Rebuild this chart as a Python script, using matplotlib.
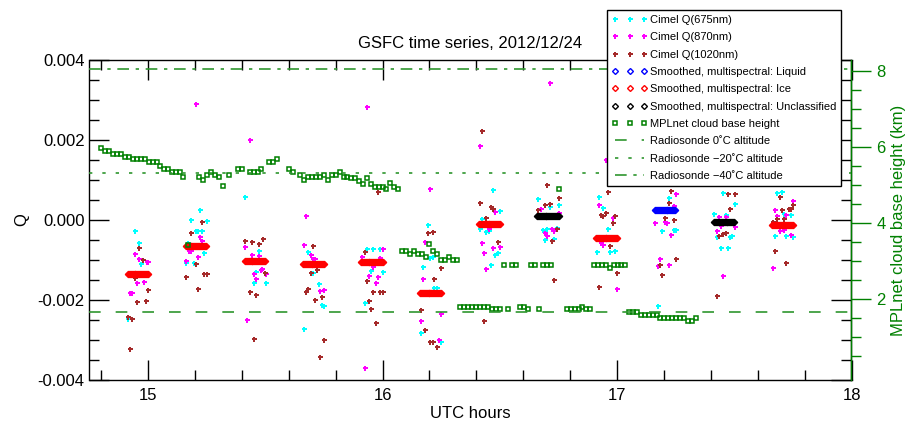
import numpy as np
import matplotlib
matplotlib.use("Agg")
import matplotlib.pyplot as plt
from matplotlib.lines import Line2D
from matplotlib.ticker import MultipleLocator, FixedLocator, FuncFormatter

plt.rcParams["font.family"] = ["Liberation Sans", "DejaVu Sans"]

# Cimel cloud-mode retrievals, UTC hour and Q (Q in units of 1e-3)
c675_t = [14.942, 14.961, 14.971, 14.914,
          15.220, 15.181, 15.250, 15.203, 15.214, 15.231, 15.171, 15.239, 15.163, 15.194,
          15.412, 15.472, 15.461, 15.452, 15.501,
          15.682, 15.705, 15.730, 15.742, 15.750, 15.664,
          15.933, 15.961, 15.989, 15.952, 16.001, 15.924,
          16.193, 16.213, 16.203, 16.173, 16.221, 16.231, 16.164, 16.250,
          16.472, 16.500, 16.425, 16.415, 16.443, 16.453, 16.492, 16.481, 16.463,
          16.664, 16.714, 16.752, 16.684, 16.703, 16.742, 16.694, 16.732,
          16.923, 16.942, 16.962, 16.914, 16.972, 16.991,
          17.223, 17.192, 17.241, 17.251, 17.173,
          17.453, 17.501, 17.415, 17.463, 17.425, 17.482, 17.492, 17.443, 17.473,
          17.684, 17.704, 17.714, 17.742, 17.674, 17.722, 17.752]
c675_q = [-0.28, -0.57, -1.09, -2.48,
          0.24, -0.01, -0.02, -0.28, -0.28, -0.28, -0.57, -0.82, -1.08, -1.08,
          0.58, -0.78, -1.29, -1.58, -1.58,
          -0.80, -1.33, -1.60, -2.13, -2.16, -2.73,
          -0.73, -0.73, -0.73, -1.28, -1.29, -2.08,
          -0.13, -0.92, -0.95, -1.18, -1.69, -1.69, -2.82, -3.05,
          0.74, 0.22, 0.02, -0.22, -0.31, -0.28, -0.83, -0.87, -1.12,
          0.53, 0.33, 0.37, -0.25, -0.23, -0.20, -0.50, -0.48,
          0.57, 0.30, -0.22, -0.79, -0.81, -0.77,
          0.54, -0.27, -0.25, -0.25, -2.15,
          0.67, 0.40, 0.15, 0.12, -0.43, -0.42, -0.40, -0.69, -0.69,
          0.67, 0.69, 0.15, 0.13, -0.40, -0.40, -0.42]

c870_t = [14.942, 14.961, 14.994, 15.000, 14.951, 14.981, 14.922, 14.932,
          15.203, 15.220, 15.230, 15.175, 15.181, 15.211, 15.161,
          15.433, 15.412, 15.442, 15.472, 15.487, 15.480, 15.501, 15.452, 15.461, 15.422,
          15.673, 15.664, 15.694, 15.703, 15.713, 15.722, 15.733, 15.749,
          15.933, 16.001, 15.914, 15.989, 15.961, 15.942, 15.981, 15.971, 15.924,
          16.203, 16.183, 16.173, 16.251, 16.164, 16.241,
          16.415, 16.481, 16.453, 16.425, 16.472, 16.500, 16.434, 16.443,
          16.712, 16.674, 16.752, 16.723, 16.733, 16.694, 16.703,
          16.953, 16.923, 16.981, 16.933, 16.942, 17.001,
          17.251, 17.241, 17.163, 17.203, 17.213, 17.231, 17.184, 17.173, 17.223,
          17.435, 17.463, 17.443, 17.501, 17.425, 17.453,
          17.752, 17.674, 17.684, 17.722, 17.694, 17.714, 17.742, 17.665]
c870_q = [-0.86, -0.98, -1.06, -1.06, -1.58, -1.56, -1.83, -1.83,
          2.90, -0.43, -0.53, -0.78, -0.78, -0.93, -1.02,
          2.00, -0.68, -0.87, -0.91, -1.23, -1.25, -1.35, -1.35, -1.48, -2.50,
          0.10, -0.63, -0.88, -0.98, -0.98, -1.18, -1.78, -1.75,
          2.82, -0.72, -0.92, -0.96, -1.17, -1.40, -1.42, -1.57, -3.69,
          0.77, -0.56, -1.48, -2.35, -2.53, -3.00,
          1.86, 0.19, -0.22, -0.58, -0.69, -0.68, -0.82, -1.23,
          3.43, 0.28, 0.17, -0.23, -0.28, -0.33, -0.41,
          1.50, 0.37, 0.05, -0.58, -0.62, -1.73,
          0.65, 0.35, -0.08, -0.05, -0.08, -0.38, -0.98, -1.14, -1.13,
          0.08, 0.08, -0.14, -0.17, -0.28, -1.39,
          0.48, 0.24, 0.11, 0.12, -0.27, -0.25, -0.38, -1.20]

c1020_t = [14.961, 14.979, 14.944, 14.999, 14.951, 14.991, 14.914, 14.932, 14.922,
           15.181, 15.231, 15.203, 15.163, 15.239, 15.250, 15.211,
           15.412, 15.442, 15.472, 15.490, 15.499, 15.433, 15.461, 15.452,
           15.702, 15.722, 15.694, 15.682, 15.672, 15.742, 15.712, 15.750, 15.732,
           15.980, 15.924, 15.933, 15.961, 15.991, 16.001, 15.942, 15.952, 15.971,
           16.193, 16.213, 16.250, 16.221, 16.164, 16.183, 16.203, 16.213, 16.231,
           16.425, 16.415, 16.463, 16.472, 16.443, 16.492, 16.433,
           16.702, 16.752, 16.694, 16.714, 16.664, 16.742, 16.722, 16.732,
           16.962, 16.933, 16.942, 16.953, 16.991, 16.981, 16.972, 17.001, 16.924,
           17.231, 17.223, 17.203, 17.241, 17.251, 17.184, 17.192,
           17.473, 17.501, 17.482, 17.453, 17.463, 17.435, 17.425,
           17.694, 17.752, 17.732, 17.742, 17.704, 17.684, 17.714, 17.664, 17.674, 17.722]
c1020_q = [-0.69, -1.00, -1.45, -1.76, -2.04, -2.02, -2.43, -2.48, -3.23,
           -0.33, -0.06, -1.09, -1.43, -1.36, -1.35, -1.73,
           -0.52, -0.55, -0.60, -0.48, -1.32, -1.81, -1.88, -2.97,
           -0.64, -1.26, -1.32, -1.72, -1.80, -1.93, -2.01, -3.00, -3.43,
           0.69, -0.81, -1.52, -1.81, -1.81, -1.81, -2.02, -2.23, -2.57,
           -0.33, -0.29, -1.20, -1.48, -2.25, -2.74, -3.04, -3.06, -3.17,
           2.23, 0.43, 0.32, 0.27, 0.04, -0.54, -2.52,
           0.87, 0.55, 0.38, 0.41, 0.25, -0.23, -0.53, -1.51,
           0.69, 0.12, 0.10, 0.17, 0.10, -0.08, -0.64, -1.33, -1.68,
           0.73, 0.43, 0.04, 0.01, -0.97, -1.13, -1.38,
           0.65, 0.65, 0.28, -0.35, -0.32, -0.41, -1.89,
           0.58, 0.37, 0.27, 0.27, 0.26, 0.02, 0.03, -0.04, -0.77, -1.08]

# smoothed multispectral Q, one constant value per Cimel sequence
smooth_start = [14.914, 15.161, 15.413, 15.661, 15.908, 16.160,
                16.412, 16.659, 16.911, 17.163, 17.415, 17.662]
smooth_end = [14.999, 15.247, 15.499, 15.750, 16.002, 16.250,
              16.502, 16.753, 17.001, 17.248, 17.501, 17.752]
smooth_q = [-1.35, -0.64, -1.03, -1.09, -1.06, -1.83,
            -0.10, 0.10, -0.44, 0.26, -0.05, -0.12]
smooth_phase = ["Ice", "Ice", "Ice", "Ice", "Ice", "Ice",
                "Ice", "Unclassified", "Ice", "Liquid", "Unclassified", "Ice"]
smooth_step = 0.004  # h between smoothed samples

# MPLnet cloud base height (km)
mpl_t = [14.799, 14.816, 14.833, 14.850, 14.867, 14.884, 14.902, 14.918, 14.935, 14.952,
         14.969, 14.986, 15.003, 15.020, 15.038, 15.050, 15.067, 15.085, 15.102, 15.119,
         15.136, 15.149, 15.170, 15.217, 15.234, 15.251, 15.268, 15.285, 15.302, 15.319,
         15.345, 15.383, 15.400, 15.434, 15.452, 15.469, 15.483, 15.517, 15.533, 15.550,
         15.600, 15.617, 15.648, 15.665, 15.682, 15.699, 15.716, 15.733, 15.750, 15.766,
         15.784, 15.802, 15.817, 15.834, 15.847, 15.864, 15.881, 15.900, 15.917, 15.934,
         15.951, 15.968, 15.985, 16.001, 16.016, 16.033, 16.050, 16.066,
         16.082, 16.099, 16.117, 16.133, 16.150, 16.167, 16.184, 16.200, 16.217, 16.234,
         16.250, 16.267, 16.284, 16.301, 16.318,
         16.331, 16.348, 16.365, 16.382, 16.399, 16.416, 16.433, 16.450, 16.467, 16.484,
         16.502, 16.536, 16.587, 16.604, 16.621, 16.667, 16.786, 16.803, 16.820, 16.837,
         16.851, 16.868, 16.885, 17.051, 17.068, 17.085, 17.102, 17.119, 17.136, 17.153,
         17.170, 17.184, 17.201, 17.219, 17.236, 17.253, 17.270, 17.287, 17.301, 17.318,
         17.335,
         16.516, 16.550, 16.567, 16.635, 16.652, 16.684, 16.701, 16.718, 16.752,
         16.900, 16.917, 16.934, 16.951, 16.968, 16.985, 17.002, 17.019, 17.036]
mpl_km = [5.97, 5.89, 5.89, 5.82, 5.82, 5.82, 5.74, 5.74, 5.67, 5.67,
          5.67, 5.67, 5.59, 5.59, 5.59, 5.50, 5.43, 5.43, 5.35, 5.35,
          5.35, 5.20, 3.42, 5.20, 5.12, 5.27, 5.35, 5.27, 5.20, 4.96,
          5.27, 5.43, 5.43, 5.35, 5.35, 5.35, 5.43, 5.59, 5.59, 5.67,
          5.43, 5.35, 5.27, 5.12, 5.20, 5.20, 5.20, 5.20, 5.27, 5.12,
          5.27, 5.27, 5.35, 5.20, 5.20, 5.19, 5.19, 5.11, 5.03, 5.19,
          5.03, 4.95, 4.95, 4.95, 4.89, 5.04, 4.95, 4.89,
          3.27, 3.27, 3.19, 3.27, 3.19, 3.19, 3.11, 3.43, 3.27, 3.19,
          3.03, 3.03, 3.11, 3.03, 3.03,
          1.79, 1.79, 1.79, 1.79, 1.79, 1.79, 1.79, 1.79, 1.72, 1.72,
          1.72, 1.72, 1.79, 1.79, 1.72, 1.72, 1.72, 1.72, 1.72, 1.72,
          1.79, 1.72, 1.72, 1.64, 1.64, 1.64, 1.57, 1.57, 1.57, 1.57,
          1.57, 1.49, 1.49, 1.49, 1.49, 1.49, 1.49, 1.49, 1.42, 1.42,
          1.49,
          2.88, 2.88, 2.88, 2.88, 2.88, 2.88, 2.88, 2.88, 4.89,
          2.88, 2.88, 2.88, 2.88, 2.80, 2.88, 2.88, 2.88, 2.88]

# radiosonde isotherm altitudes (km)
sonde_0c = 1.66
sonde_m20c = 5.30
sonde_m40c = 8.06

green = "#008000"
line_green = "#2f962f"
phase_colors = {"Liquid": "blue", "Ice": "red", "Unclassified": "black"}

fig = plt.figure(figsize=(9.12, 4.22), dpi=100)
ax = fig.add_axes([89.5 / 912, 1 - 380 / 422, 762 / 912, 320 / 422])
ax2 = ax.twinx()

cimel_style = dict(ls="none", marker="P", ms=3.6, mew=0)
ax.plot(c675_t, np.array(c675_q) * 1e-3, color="cyan", **cimel_style)
ax.plot(c870_t, np.array(c870_q) * 1e-3, color="magenta", **cimel_style)
ax.plot(c1020_t, np.array(c1020_q) * 1e-3, color="brown", **cimel_style)

for t0, t1, q, ph in zip(smooth_start, smooth_end, smooth_q, smooth_phase):
    ts = np.arange(t0, t1 + 1e-6, smooth_step)
    ax.plot(ts, np.full(ts.size, q * 1e-3), ls="none", marker="D", ms=3.2,
            mfc="none", mec=phase_colors[ph], mew=1.0)

ax2.plot(mpl_t, mpl_km, ls="none", marker="s", ms=3.2, mfc="none",
         mec=green, mew=1.1)
ax2.axhline(sonde_0c, color=line_green, lw=1.2, dashes=(7, 9))
ax2.axhline(sonde_m20c, color=line_green, lw=1.2, dashes=(2, 6))
ax2.axhline(sonde_m40c, color=line_green, lw=1.2, dashes=(7, 4, 2, 4))

ax.set_xlim(14.75, 18.0)
ax.set_ylim(-0.004, 0.004)
ax2.set_ylim(-0.14, 8.29)

ax.xaxis.set_major_locator(MultipleLocator(1))
ax.xaxis.set_minor_locator(MultipleLocator(0.2))
ax.xaxis.set_major_formatter(FuncFormatter(lambda v, p: f"{v:g}"))
ax.yaxis.set_major_locator(MultipleLocator(0.002))
ax.yaxis.set_minor_locator(MultipleLocator(0.0005))
ax.yaxis.set_major_formatter(FuncFormatter(lambda v, p: f"{round(v, 4) + 0.0:.3f}"))
ax2.yaxis.set_major_locator(FixedLocator([2, 4, 6, 8]))
ax2.yaxis.set_minor_locator(FixedLocator(np.arange(0.5, 8.1, 0.5)))

ax.tick_params(which="both", direction="in", top=True, right=True,
               labelsize=12, width=1.0, colors="black")
ax.tick_params(which="major", length=14.4)
ax.tick_params(which="minor", length=7.2)
ax.tick_params(axis="x", pad=6)
ax2.tick_params(which="both", direction="out", colors=green, labelsize=12, width=1.0)
ax2.tick_params(which="major", length=14.4)
ax2.tick_params(which="minor", length=7.2)

for s in ax.spines.values():
    s.set_linewidth(1.0)
for name in ("left", "top", "bottom"):
    ax2.spines[name].set_visible(False)
ax2.spines["right"].set_color(green)
ax2.spines["right"].set_linewidth(1.0)

ax.set_xlabel("UTC hours", fontsize=12, labelpad=2)
ax.set_ylabel("Q", fontsize=12, labelpad=6)
ax2.set_ylabel("MPLnet cloud base height (km)", fontsize=12, color=green, labelpad=4)
ax.set_title("GSFC time series, 2012/12/24", fontsize=12, pad=9)

handles = [
    Line2D([], [], color="cyan", **cimel_style),
    Line2D([], [], color="magenta", **cimel_style),
    Line2D([], [], color="brown", **cimel_style),
    Line2D([], [], ls="none", marker="D", ms=3.0, mfc="none", mec="blue", mew=1.0),
    Line2D([], [], ls="none", marker="D", ms=3.0, mfc="none", mec="red", mew=1.0),
    Line2D([], [], ls="none", marker="D", ms=3.0, mfc="none", mec="black", mew=1.0),
    Line2D([], [], ls="none", marker="s", ms=2.5, mfc="none", mec=green, mew=1.1),
    Line2D([], [], color=line_green, lw=1.2, dashes=(7, 9)),
    Line2D([], [], color=line_green, lw=1.2, dashes=(2, 6)),
    Line2D([], [], color=line_green, lw=1.2, dashes=(7, 4, 2, 4)),
]
labels = [
    "Cimel Q(675nm)", "Cimel Q(870nm)", "Cimel Q(1020nm)",
    "Smoothed, multispectral: Liquid", "Smoothed, multispectral: Ice",
    "Smoothed, multispectral: Unclassified", "MPLnet cloud base height",
    "Radiosonde 0\u02daC altitude", "Radiosonde \u221220\u02daC altitude",
    "Radiosonde \u221240\u02daC altitude",
]
leg = ax2.legend(handles, labels, loc="upper right",
                 bbox_to_anchor=(841 / 912, 1 - 10 / 422),
                 bbox_transform=fig.transFigure, borderaxespad=0,
                 fontsize=8, numpoints=3, handlelength=3.2, handletextpad=0.2,
                 borderpad=0.45, labelspacing=0.66, fancybox=False,
                 edgecolor="black", framealpha=1)
leg.get_frame().set_linewidth(1.0)
leg.set_zorder(10)

fig.savefig("out.png", dpi=100)
